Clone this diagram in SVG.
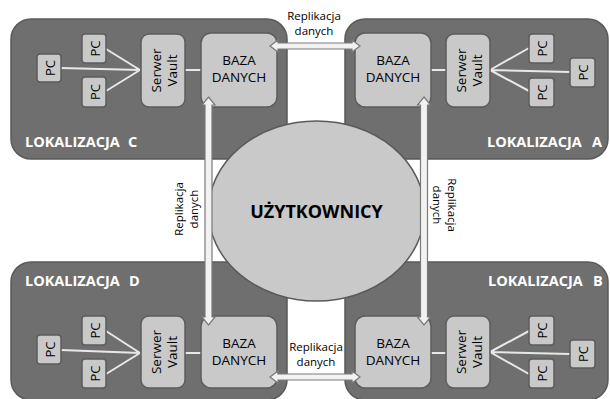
<svg xmlns="http://www.w3.org/2000/svg" width="610" height="399" viewBox="0 0 610 399">
<style>
.loc{fill:#6f6f6f;stroke:#5a5a5a;stroke-width:1.5}
.box{fill:#c9c9c9;stroke:#5c5c5c;stroke-width:1.5}
.lbl{font-family:"Open Sans","Liberation Sans",sans-serif;font-weight:bold;font-size:14.5px;fill:#ffffff}
.t{font-family:"Open Sans","Liberation Sans",sans-serif;font-size:13.5px;fill:#000000;text-anchor:middle}
.pc{font-family:"Open Sans","Liberation Sans",sans-serif;font-size:13px;fill:#000000;text-anchor:middle}
.rep{font-family:"Open Sans","Liberation Sans",sans-serif;font-size:11.5px;fill:#000000;text-anchor:middle}
.ln{stroke:#e8e8e8;stroke-width:2;fill:none}
.arr{fill:#f2f2f2;stroke:#7a7a7a;stroke-width:1.2}
</style>
<rect width="610" height="399" fill="#ffffff"/>

<g id="lokalizacja-c">
<rect class="loc" x="11" y="19" width="276" height="140" rx="20"/>
<text class="lbl" x="25" y="147">LOKALIZACJA<tspan x="128">C</tspan></text>
</g>
<g id="lokalizacja-a">
<rect class="loc" x="345" y="19" width="263" height="140" rx="20"/>
<text class="lbl" x="487" y="147">LOKALIZACJA<tspan x="592">A</tspan></text>
</g>
<g id="lokalizacja-d">
<rect class="loc" x="11" y="262" width="276" height="138" rx="20"/>
<text class="lbl" x="25" y="286">LOKALIZACJA<tspan x="129">D</tspan></text>
</g>
<g id="lokalizacja-b">
<rect class="loc" x="345" y="262" width="263" height="138" rx="20"/>
<text class="lbl" x="488" y="286">LOKALIZACJA<tspan x="593">B</tspan></text>
</g>

<g id="lines">
<path class="ln" d="M61 68 L140 70 M106 49 L140 70 M106 91 L140 70 M185 70 L201 70"/>
<path class="ln" d="M490 70 L529 48 M490 70 L570 72 M490 70 L529 91 M431 70 L446 70"/>
<path class="ln" d="M61 350 L140 353 M106 331 L140 353 M106 374 L140 353 M185 353 L201 353"/>
<path class="ln" d="M490 352 L529 331 M490 352 L570 354 M490 352 L529 374 M431 353 L446 353"/>
</g>

<g id="pc-c1"><rect class="box" x="37" y="54" width="24" height="28" rx="3"/><text class="pc" transform="translate(54.5,68) rotate(-90)">PC</text></g>
<g id="pc-c2"><rect class="box" x="82" y="34" width="24" height="29" rx="3"/><text class="pc" transform="translate(99.5,48.5) rotate(-90)">PC</text></g>
<g id="pc-c3"><rect class="box" x="82" y="77" width="24" height="30" rx="3"/><text class="pc" transform="translate(99.5,92) rotate(-90)">PC</text></g>
<g id="serwer-c"><rect class="box" x="141" y="34" width="44" height="73" rx="8"/><text class="t" transform="translate(160.5,70.5) rotate(-90)">Serwer<tspan x="0" dy="16">Vault</tspan></text></g>
<g id="baza-c"><rect class="box" x="201" y="33" width="76" height="74" rx="10"/><text class="t" x="239" y="65">BAZA<tspan x="239" dy="17">DANYCH</tspan></text></g>

<g id="baza-a"><rect class="box" x="355" y="33" width="76" height="74" rx="10"/><text class="t" x="393" y="65">BAZA<tspan x="393" dy="17">DANYCH</tspan></text></g>
<g id="serwer-a"><rect class="box" x="446" y="34" width="44" height="73" rx="8"/><text class="t" transform="translate(465.5,70.5) rotate(-90)">Serwer<tspan x="0" dy="16">Vault</tspan></text></g>
<g id="pc-a1"><rect class="box" x="529" y="34" width="25" height="29" rx="3"/><text class="pc" transform="translate(547,48.5) rotate(-90)">PC</text></g>
<g id="pc-a2"><rect class="box" x="570" y="58" width="25" height="29" rx="3"/><text class="pc" transform="translate(588,72.5) rotate(-90)">PC</text></g>
<g id="pc-a3"><rect class="box" x="529" y="78" width="25" height="29" rx="3"/><text class="pc" transform="translate(547,92.5) rotate(-90)">PC</text></g>

<g id="pc-d1"><rect class="box" x="37" y="335" width="24" height="29" rx="3"/><text class="pc" transform="translate(54.5,349.5) rotate(-90)">PC</text></g>
<g id="pc-d2"><rect class="box" x="82" y="316" width="24" height="29" rx="3"/><text class="pc" transform="translate(99.5,330.5) rotate(-90)">PC</text></g>
<g id="pc-d3"><rect class="box" x="82" y="359" width="24" height="29" rx="3"/><text class="pc" transform="translate(99.5,373.5) rotate(-90)">PC</text></g>
<g id="serwer-d"><rect class="box" x="141" y="316" width="44" height="72" rx="8"/><text class="t" transform="translate(160.5,352) rotate(-90)">Serwer<tspan x="0" dy="16">Vault</tspan></text></g>
<g id="baza-d"><rect class="box" x="201" y="316" width="76" height="72" rx="10"/><text class="t" x="239" y="348">BAZA<tspan x="239" dy="17">DANYCH</tspan></text></g>

<g id="baza-b"><rect class="box" x="355" y="316" width="76" height="72" rx="10"/><text class="t" x="393" y="348">BAZA<tspan x="393" dy="17">DANYCH</tspan></text></g>
<g id="serwer-b"><rect class="box" x="446" y="316" width="44" height="72" rx="8"/><text class="t" transform="translate(465.5,352) rotate(-90)">Serwer<tspan x="0" dy="16">Vault</tspan></text></g>
<g id="pc-b1"><rect class="box" x="529" y="316" width="25" height="29" rx="3"/><text class="pc" transform="translate(547,330.5) rotate(-90)">PC</text></g>
<g id="pc-b2"><rect class="box" x="570" y="340" width="25" height="28" rx="3"/><text class="pc" transform="translate(588,354) rotate(-90)">PC</text></g>
<g id="pc-b3"><rect class="box" x="529" y="359" width="25" height="29" rx="3"/><text class="pc" transform="translate(547,373.5) rotate(-90)">PC</text></g>

<g id="uzytkownicy">
<ellipse cx="316.5" cy="211" rx="108" ry="90" fill="#c9c9c9" stroke="#5a5a5a" stroke-width="1.5"/>
<text x="316.5" y="218" font-family="'Open Sans','Liberation Sans',sans-serif" font-weight="bold" font-size="18" fill="#000000" text-anchor="middle">UŻYTKOWNICY</text>
</g>

<g id="connectors">
<polygon class="arr" points="270,46 278,40 278,43 352,43 352,40 360,46 352,52 352,49 278,49 278,52"/>
<polygon class="arr" points="270,377 278,371 278,374 352,374 352,371 360,377 352,383 352,380 278,380 278,383"/>
<polygon class="arr" points="208.5,97 215,105 212,105 212,317 215,317 208.5,325 202,317 205,317 205,105 202,105"/>
<polygon class="arr" points="424,97 430.5,105 427.5,105 427.5,317 430.5,317 424,325 417.5,317 420.5,317 420.5,105 417.5,105"/>
<text class="rep" x="314" y="20">Replikacja<tspan x="314" dy="15">danych</tspan></text>
<text class="rep" x="316" y="351">Replikacja<tspan x="316" dy="15">danych</tspan></text>
<text class="rep" transform="translate(183,209) rotate(-90)">Replikacja<tspan x="0" dy="15">danych</tspan></text>
<text class="rep" transform="translate(448,205) rotate(90)">Replikacja<tspan x="0" dy="15">danych</tspan></text>
</g>
</svg>
